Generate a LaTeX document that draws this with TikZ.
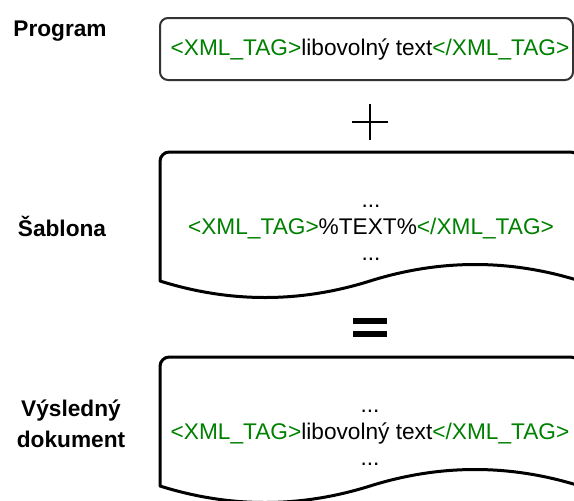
\documentclass[tikz,border=0pt]{standalone}
\usepackage{fontspec}
\setmainfont{Liberation Sans}
\definecolor{tagcolor}{HTML}{008000}
\newcommand{\tg}[1]{\textcolor{tagcolor}{#1}}

\begin{document}
\begin{tikzpicture}[x=0.75pt, y=-0.75pt,
    sidelabel/.style={font=\fontsize{17}{23.25}\selectfont\bfseries, align=center},
    xml/.style={font=\fontsize{17}{20}\selectfont, align=center},
    docline/.style={line width=2.25pt, line join=round}]
  \useasboundingbox (0,0) rectangle (574,500);
  \clip (0,0) rectangle (574,500);

  % labels
  \node (program) at (60,31) [sidelabel] {Program};
  \node (sablona) at (62,226) [sidelabel] {Šablona};
  \node (vysledny) at (71,424) [sidelabel] {Výsledný\\dokument};

  % program box
  \draw[line width=1.5pt, draw=black!80, rounded corners=6pt] (160,18) rectangle (573,80);
  \node (prog text) at (370,50) [xml] {\tg{<XML\_TAG>}libovolný text\tg{</XML\_TAG>}};

  % plus and equals
  \draw[line width=2pt] (352,122) -- (388,122) (370,104) -- (370,140);
  \fill (353,318) rectangle (387,324);
  \fill (353,331) rectangle (387,337);

  % document shapes
  \foreach \t in {152,357} {
    \draw[docline] (160,\t+129) [rounded corners=7pt] -- (160,\t) -- (580,\t) [sharp corners] -- (580,\t+129)
      .. controls (510,\t+107) and (440,\t+107) .. (370,\t+129)
      .. controls (300,\t+151) and (230,\t+151) .. (160,\t+129) -- cycle;
  }
  \node (sab text) at (371,233) [xml] {...\\\tg{<XML\_TAG>}\%TEXT\%\tg{</XML\_TAG>}\\...};
  \node (vys text) at (370,438) [xml] {...\\\tg{<XML\_TAG>}libovolný text\tg{</XML\_TAG>}\\...};
\end{tikzpicture}
\end{document}
